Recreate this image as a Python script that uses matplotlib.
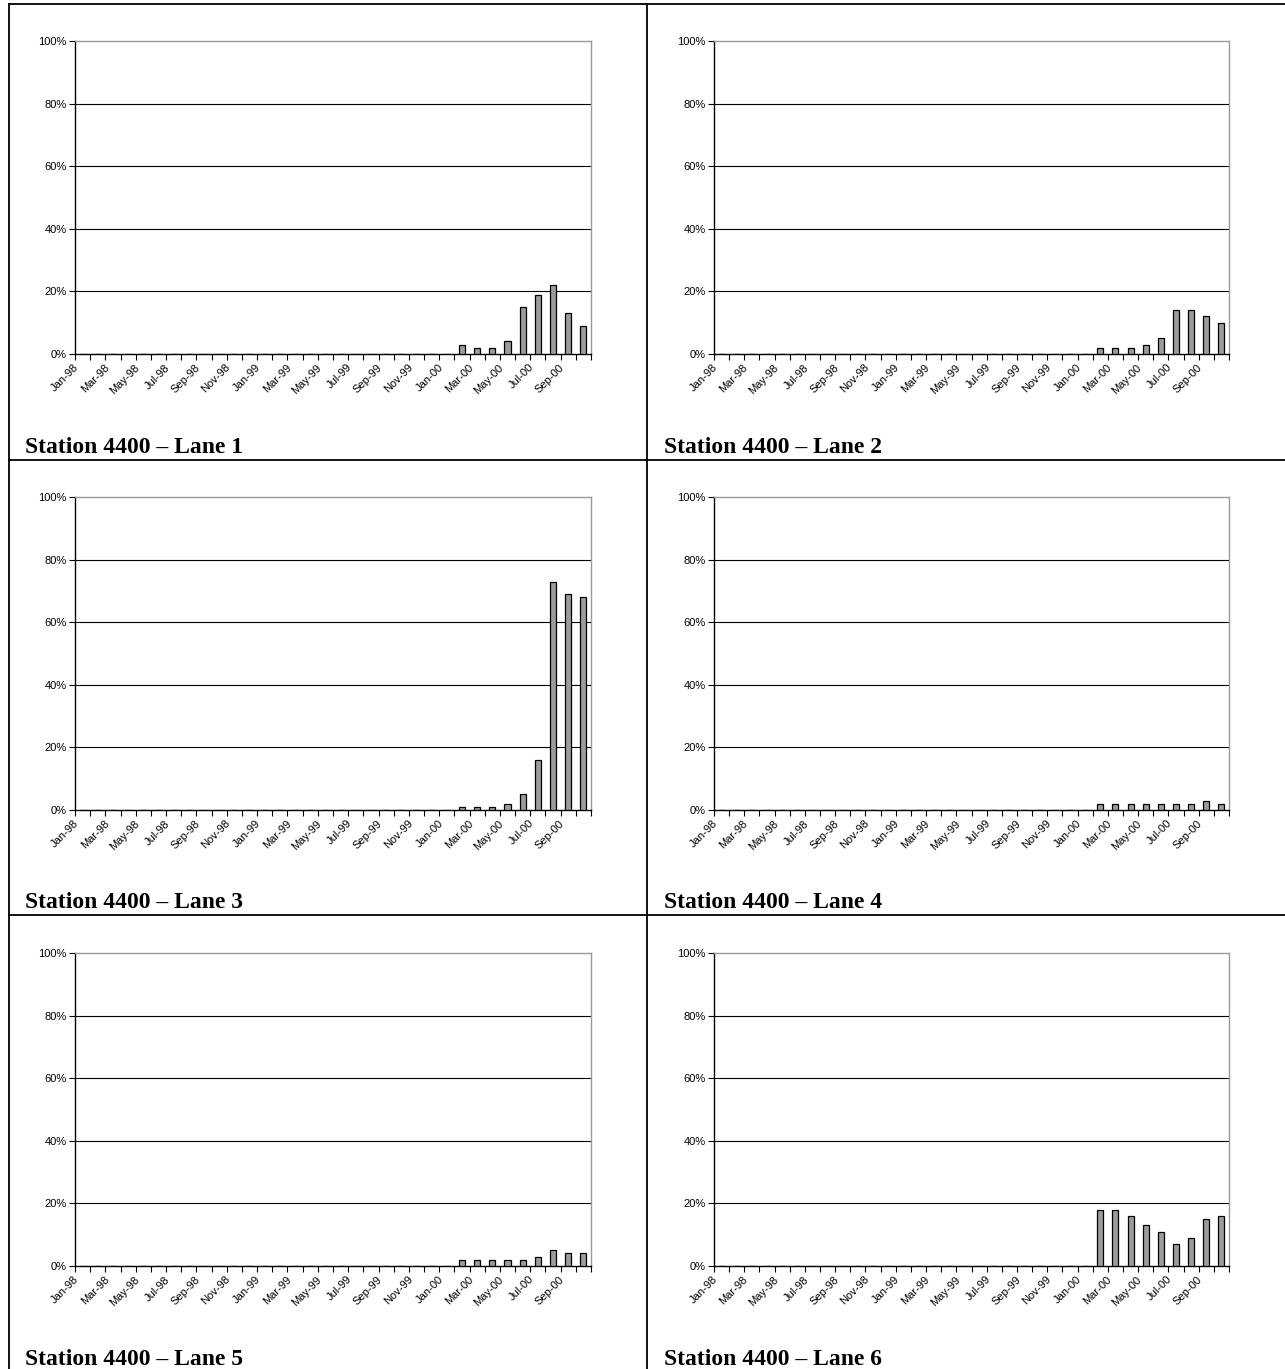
import matplotlib
matplotlib.use("Agg")
import matplotlib.pyplot as plt
from matplotlib.lines import Line2D
from matplotlib.ticker import PercentFormatter, FixedLocator
from matplotlib.transforms import ScaledTranslation

W, H = 1285, 1369
months = ["Jan", "Feb", "Mar", "Apr", "May", "Jun", "Jul", "Aug", "Sep", "Oct", "Nov", "Dec"]
categories = [f"{m}-{y}" for y in ["98", "99"] for m in months] + \
             [f"{m}-00" for m in months[:10]]

# Values (%) from Feb-00 to Oct-00; earlier months are zero
lane1 = [3, 2, 2, 4, 15, 19, 22, 13, 9]
lane2 = [2, 2, 2, 3, 5, 14, 14, 12, 10]
lane3 = [1, 1, 1, 2, 5, 16, 73, 69, 68]
lane4 = [2, 2, 2, 2, 2, 2, 2, 3, 2]
lane5 = [2, 2, 2, 2, 2, 3, 5, 4, 4]
lane6 = [18, 18, 16, 13, 11, 7, 9, 15, 16]
titles = ["Station 4400 \u2013 Lane 1", "Station 4400 \u2013 Lane 2",
          "Station 4400 \u2013 Lane 3", "Station 4400 \u2013 Lane 4",
          "Station 4400 \u2013 Lane 5", "Station 4400 \u2013 Lane 6"]
lanes = [lane1, lane2, lane3, lane4, lane5, lane6]

n_zero = len(categories) - len(lane1)

fig = plt.figure(figsize=(W / 100, H / 100), dpi=100)
fig.patch.set_facecolor("white")

col_x = [(75, 591), (714, 1229)]
row_y = [(41, 354), (497, 810), (953, 1266)]
title_x = [25, 664]
title_base = [453, 908, 1365]

shift = ScaledTranslation(-9 / 100, 0, fig.dpi_scale_trans)

for i, (vals, title) in enumerate(zip(lanes, titles)):
    r, c = divmod(i, 2)
    x0, x1 = col_x[c]
    yt, yb = row_y[r]
    ax = fig.add_axes([x0 / W, 1 - yb / H, (x1 - x0) / W, (yb - yt) / H])
    data = [0.0] * n_zero + [v / 100 for v in vals]
    xs = list(range(len(categories)))
    ax.bar(xs, data, width=0.4, color="#9c9c9c", edgecolor="black", linewidth=0.9, zorder=3)
    ax.set_xlim(-0.5, len(categories) - 0.5)
    ax.set_ylim(0, 1)
    ax.set_yticks([0, 0.2, 0.4, 0.6, 0.8, 1.0])
    ax.yaxis.set_major_formatter(PercentFormatter(1.0, decimals=0))
    ax.tick_params(axis="y", length=4, width=0.8, labelsize=8, pad=2, colors="black")
    ax.set_xticks(xs[::2])
    ax.set_xticklabels(categories[::2], rotation=45, ha="right", va="top",
                       rotation_mode="anchor", fontsize=8)
    ax.tick_params(axis="x", length=0, pad=6)
    ax.xaxis.set_minor_locator(FixedLocator([k - 0.5 for k in range(len(categories) + 1)]))
    ax.tick_params(axis="x", which="minor", length=4, width=0.8)
    for lab in ax.get_xticklabels():
        lab.set_transform(lab.get_transform() + shift)
    for lab in ax.get_xticklabels() + ax.get_yticklabels():
        lab.set_fontfamily(["Liberation Sans", "DejaVu Sans"])
    for g in [0.2, 0.4, 0.6, 0.8]:
        ax.axhline(g, color="black", linewidth=0.8, zorder=1)
    ax.spines["left"].set_color("black")
    ax.spines["bottom"].set_color("black")
    ax.spines["left"].set_linewidth(1.0)
    ax.spines["bottom"].set_linewidth(1.0)
    ax.spines["top"].set_color("#999999")
    ax.spines["right"].set_color("#999999")
    ax.spines["top"].set_linewidth(1.0)
    ax.spines["right"].set_linewidth(1.0)
    ax.set_facecolor("white")
    fig.text(title_x[c] / W, 1 - title_base[r] / H, title, fontsize=17,
             fontweight="bold", family=["Liberation Serif", "DejaVu Serif"],
             ha="left", va="baseline")

# Table borders
lw = 1.3
def hline(y, xa, xb):
    fig.add_artist(Line2D([xa / W, xb / W], [1 - y / H, 1 - y / H], color="black", linewidth=lw))
def vline(x, ya, yb):
    fig.add_artist(Line2D([x / W, x / W], [1 - ya / H, 1 - yb / H], color="black", linewidth=lw))

hline(4, 9, W)
hline(460, 9, W)
hline(915, 9, W)
vline(9, 4, H)
vline(647, 4, H)

fig.savefig("out.png", dpi=100, facecolor="white")
